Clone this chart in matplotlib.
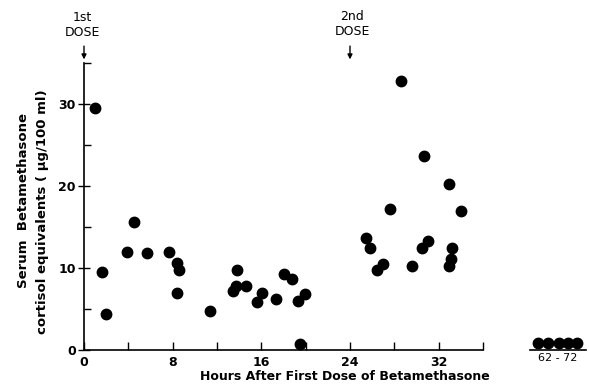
import matplotlib
matplotlib.use("Agg")
import matplotlib.pyplot as plt

# Data (hours after first dose, serum cortisol equivalents µg/100 ml)
hours = [1.0, 1.6, 1.95, 3.9, 4.5, 5.7, 7.66, 8.4, 8.6, 8.35, 11.35,
         13.4, 13.7, 13.8, 14.6, 15.65, 16.1, 17.3, 18.05, 18.8, 19.35, 19.9, 19.5,
         25.4, 25.8, 26.4, 27.0, 27.6, 28.6, 29.55, 30.5, 30.7, 31.05,
         32.9, 32.9, 33.1, 33.2, 34.0]
values = [29.5, 9.5, 4.4, 12.0, 15.6, 11.8, 11.9, 10.65, 9.8, 7.0, 4.8,
          7.2, 7.8, 9.8, 7.8, 5.85, 7.0, 6.2, 9.3, 8.7, 6.0, 6.8, 0.7,
          13.7, 12.4, 9.7, 10.5, 17.2, 32.8, 10.2, 12.4, 23.7, 13.3,
          20.2, 10.2, 11.1, 12.4, 17.0]
late_hours = [62.7, 64.9, 67.2, 69.1, 71.1]
late_values = [0.8, 0.8, 0.8, 0.8, 0.8]

x_major = [0, 8, 16, 24, 32]
x_minor = [4, 12, 20, 28, 36]
y_major = [0, 10, 20, 30]
y_minor = [5, 15, 25, 35]

font = "DejaVu Sans"
fig = plt.figure(figsize=(5.89, 3.86), dpi=100)
W, H = 589, 386

def rect(x0, y0, x1, y1):
    return [x0 / W, 1 - y1 / H, (x1 - x0) / W, (y1 - y0) / H]

ax = fig.add_axes(rect(84, 63, 483, 350))
ax.plot(hours, values, 'o', color='black', ms=7.5, clip_on=False)
ax.set_xlim(0, 36)
ax.set_ylim(0, 35)
for s in ['top', 'right']:
    ax.spines[s].set_visible(False)
ax.spines['left'].set_linewidth(1.2)
ax.spines['bottom'].set_linewidth(1.2)
ax.set_xticks(x_major)
ax.set_xticks(x_minor, minor=True)
ax.set_yticks(y_major)
ax.set_yticks(y_minor, minor=True)
ax.tick_params(axis='x', which='both', direction='in', length=6, width=1, labelsize=9, pad=4)
ax.tick_params(axis='y', which='major', direction='inout', length=8, width=1, labelsize=9, pad=2)
ax.tick_params(axis='y', which='minor', direction='in', length=5, width=1)
ax.set_xticklabels([str(v) for v in x_major], fontfamily=font, fontweight='bold')
ax.set_yticklabels([str(v) for v in y_major], fontfamily=font, fontweight='bold')

# Dose annotations
ax.annotate("", xy=(0, 35.1), xytext=(0, 37.4), annotation_clip=False,
            arrowprops=dict(arrowstyle='-|>', color='black', lw=1, mutation_scale=7))
fig.text(82 / W, 1 - 11 / H, "1st\nDOSE", ha='center', va='top', fontsize=9,
         fontfamily=font, linespacing=1.2)
ax.annotate("", xy=(24, 35.1), xytext=(24, 37.4), annotation_clip=False,
            arrowprops=dict(arrowstyle='-|>', color='black', lw=1, mutation_scale=7))
fig.text(352 / W, 1 - 10 / H, "2nd\nDOSE", ha='center', va='top', fontsize=9,
         fontfamily=font, linespacing=1.2)

# Late segment 62-72
ax2 = fig.add_axes(rect(530, 63, 586, 350))
ax2.plot(late_hours, late_values, 'o', color='black', ms=7.5, clip_on=False)
ax2.set_xlim(61, 73)
ax2.set_ylim(0, 35)
for s in ['top', 'right', 'left']:
    ax2.spines[s].set_visible(False)
ax2.spines['bottom'].set_linewidth(1.2)
ax2.set_yticks([])
ax2.set_xticks([67])
ax2.set_xticklabels(["62 - 72"], fontfamily=font, fontsize=8)
ax2.tick_params(axis='x', length=0, pad=2)
ax2.patch.set_alpha(0)

fig.text(345 / W, 1 - 377 / H, "Hours After First Dose of Betamethasone",
         ha='center', va='center', fontsize=9, fontfamily=font, fontweight='bold')
fig.text(24 / W, 1 - 200 / H, "Serum  Betamethasone", rotation=90,
         ha='center', va='center', fontsize=9.5, fontfamily=font, fontweight='bold')
fig.text(43 / W, 1 - 212 / H, "cortisol equivalents ( µg/100 ml)", rotation=90,
         ha='center', va='center', fontsize=9.5, fontfamily=font, fontweight='bold')

fig.savefig("out.png", dpi=100)
